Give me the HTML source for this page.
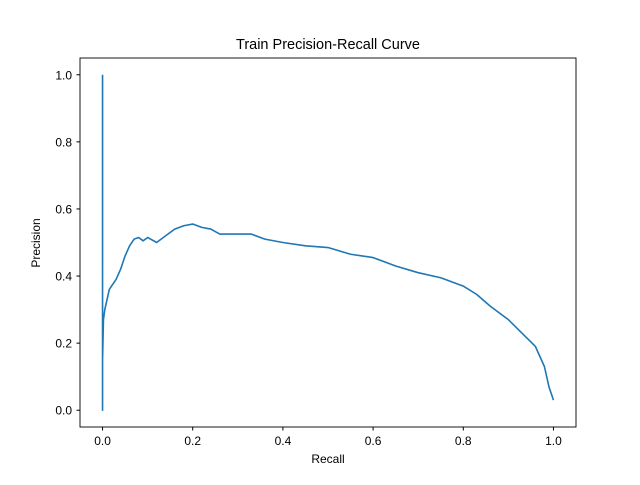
<!DOCTYPE html>
<html><head><meta charset="utf-8"><style>
body{margin:0;background:#fff;}
svg text{font-family:"Liberation Sans","DejaVu Sans",sans-serif;fill:#000;}
</style></head><body>
<svg width="640" height="480" viewBox="0 0 640 480">
<rect x="0" y="0" width="640" height="480" fill="#fff"/>
<text x="328" y="49" font-size="14.5" text-anchor="middle">Train Precision-Recall Curve</text>
<g id="ticks"></g>
<path id="curve" fill="none" stroke="#1f77b4" stroke-width="1.6" stroke-linejoin="round"/>
<rect x="80" y="58" width="496" height="369" fill="none" stroke="#000" stroke-width="0.9"/>
<text x="328" y="463" font-size="12" text-anchor="middle">Recall</text>
<text transform="translate(40,243) rotate(-90)" font-size="12" text-anchor="middle">Precision</text>
</svg>
<script>
const xTicks=[0,0.2,0.4,0.6,0.8,1.0];
const yTicks=[0,0.2,0.4,0.6,0.8,1.0];
const recall=[0,0,0,0.002,0.005,0.01,0.015,0.02,0.03,0.04,0.05,0.06,0.07,0.08,0.09,0.1,0.12,0.14,0.16,0.18,0.2,0.22,0.24,0.26,0.3,0.33,0.36,0.4,0.45,0.5,0.55,0.6,0.65,0.7,0.75,0.8,0.83,0.86,0.9,0.93,0.96,0.98,0.99,1.0];
const precision=[1.0,0.0,0.15,0.27,0.3,0.33,0.36,0.37,0.39,0.42,0.46,0.49,0.51,0.515,0.505,0.515,0.5,0.52,0.54,0.55,0.555,0.545,0.54,0.525,0.525,0.525,0.51,0.5,0.49,0.485,0.465,0.455,0.43,0.41,0.395,0.37,0.345,0.31,0.27,0.23,0.19,0.13,0.07,0.03];
const sx=v=>80+(v+0.05)/1.1*496;
const sy=v=>427-(v+0.05)/1.1*369;
const NS="http://www.w3.org/2000/svg";
const g=document.getElementById('ticks');
xTicks.forEach(t=>{
  const l=document.createElementNS(NS,'line');
  l.setAttribute('x1',sx(t));l.setAttribute('x2',sx(t));l.setAttribute('y1',427);l.setAttribute('y2',430.5);l.setAttribute('stroke','#000');
  
  
  g.appendChild(l);
  const tx=document.createElementNS(NS,'text');
  tx.setAttribute('x',sx(t));tx.setAttribute('y',445);tx.setAttribute('font-size','12');tx.setAttribute('text-anchor','middle');
  tx.textContent=t.toFixed(1);
  
  
  g.appendChild(tx);
});
yTicks.forEach(t=>{
  const l=document.createElementNS(NS,'line');
  l.setAttribute('x1',76.5);l.setAttribute('x2',80);l.setAttribute('y1',sy(t));l.setAttribute('y2',sy(t));l.setAttribute('stroke','#000');
  
  
  g.appendChild(l);
  const tx=document.createElementNS(NS,'text');
  tx.setAttribute('x',72);tx.setAttribute('y',sy(t)+4.5);tx.setAttribute('font-size','12');tx.setAttribute('text-anchor','end');
  tx.textContent=t.toFixed(1);
  
  
  g.appendChild(tx);
});
document.getElementById('curve').setAttribute('d',recall.map((r,i)=>(i?'L':'M')+sx(r).toFixed(2)+','+sy(precision[i]).toFixed(2)).join(''));
</script>
</body></html>
